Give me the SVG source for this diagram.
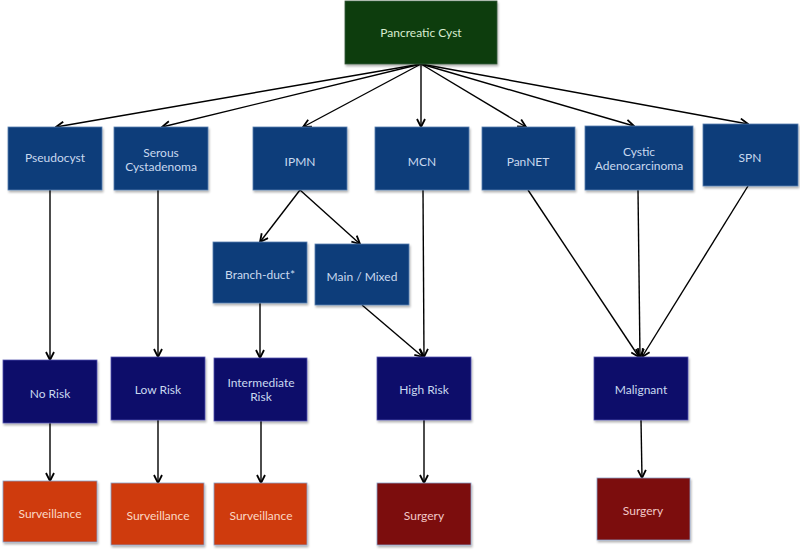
<svg xmlns="http://www.w3.org/2000/svg" width="800" height="550" viewBox="0 0 800 550">
<defs>
<marker id="ah" viewBox="0 0 10 10" refX="9" refY="5" markerWidth="10" markerHeight="10" markerUnits="userSpaceOnUse" orient="auto">
<path d="M1,1 L9,5 L1,9" fill="none" stroke="#000" stroke-width="1.8"/>
</marker>
<filter id="sh" x="-10%" y="-10%" width="125%" height="130%">
<feDropShadow dx="1" dy="2" stdDeviation="1.2" flood-color="#000" flood-opacity="0.3"/>
</filter>
</defs>
<style>
.box{filter:url(#sh);stroke-width:0.8}
.top{fill:#0c3c10;stroke:#3a5a3a}
.blue{fill:#0b3d7a;stroke:#5a7fb0}
.navy{fill:#08086a;stroke:#5a5ab0}
.orange{fill:#cf3a0b;stroke:#8aa0c8}
.red{fill:#7c0707;stroke:#8aa0c8}
text{font-family:Lato,"Open Sans","Liberation Sans",sans-serif;font-size:12px;text-anchor:middle}
.tg{fill:#d8ecd0}
.tb{fill:#c9d9ef}
.to{fill:#fbd8c4}
.tr{fill:#f2c8c8}
.conn line{stroke:#000;stroke-width:1.4;marker-end:url(#ah)}
</style>
<g class="conn">
<line x1="421" y1="64" x2="56" y2="127"/>
<line x1="421" y1="64" x2="162" y2="127"/>
<line x1="421" y1="64" x2="303" y2="127"/>
<line x1="421" y1="64" x2="421" y2="127"/>
<line x1="421" y1="64" x2="526" y2="127"/>
<line x1="421" y1="64" x2="634" y2="126"/>
<line x1="421" y1="64" x2="748" y2="124"/>
<line x1="300" y1="190" x2="260" y2="242"/>
<line x1="300" y1="190" x2="360" y2="244"/>
<line x1="50" y1="190" x2="50" y2="360"/>
<line x1="158" y1="190" x2="158" y2="357"/>
<line x1="260" y1="303" x2="260" y2="358"/>
<line x1="423" y1="190" x2="424" y2="357"/>
<line x1="362" y1="305" x2="423" y2="357"/>
<line x1="528" y1="190" x2="639" y2="357"/>
<line x1="638" y1="190" x2="640" y2="357"/>
<line x1="748" y1="186" x2="642" y2="357"/>
<line x1="50" y1="423" x2="50" y2="481"/>
<line x1="158" y1="420" x2="158" y2="483"/>
<line x1="261" y1="421" x2="261" y2="483"/>
<line x1="424" y1="420" x2="424" y2="483"/>
<line x1="641" y1="420" x2="642" y2="478"/>
</g>
<g id="pancreatic-cyst"><rect class="box top" x="345" y="1" width="152" height="63"/><text class="tg" x="421" y="37" font-size="12.5">Pancreatic Cyst</text></g>
<g id="pseudocyst"><rect class="box blue" x="8" y="127" width="94" height="63"/><text class="tb" x="55" y="162">Pseudocyst</text></g>
<g id="serous"><rect class="box blue" x="114" y="127" width="94" height="63"/><text class="tb" x="161" y="157">Serous</text><text class="tb" x="161" y="171">Cystadenoma</text></g>
<g id="ipmn"><rect class="box blue" x="253" y="127" width="94" height="63"/><text class="tb" x="300" y="166">IPMN</text></g>
<g id="mcn"><rect class="box blue" x="375" y="127" width="94" height="63"/><text class="tb" x="422" y="166">MCN</text></g>
<g id="pannet"><rect class="box blue" x="482" y="127" width="93" height="63"/><text class="tb" x="528" y="166">PanNET</text></g>
<g id="cystic-adeno"><rect class="box blue" x="585" y="126" width="108" height="64"/><text class="tb" x="639" y="156">Cystic</text><text class="tb" x="639" y="170">Adenocarcinoma</text></g>
<g id="spn"><rect class="box blue" x="703" y="124" width="95" height="62"/><text class="tb" x="750" y="162">SPN</text></g>
<g id="branch-duct"><rect class="box blue" x="213" y="242" width="94" height="61"/><text class="tb" x="260" y="279">Branch-duct*</text></g>
<g id="main-mixed"><rect class="box blue" x="315" y="244" width="94" height="61"/><text class="tb" x="362" y="281">Main / Mixed</text></g>
<g id="no-risk"><rect class="box navy" x="3" y="360" width="94" height="63"/><text class="tb" x="50" y="398">No Risk</text></g>
<g id="low-risk"><rect class="box navy" x="111" y="357" width="94" height="63"/><text class="tb" x="158" y="394">Low Risk</text></g>
<g id="intermediate-risk"><rect class="box navy" x="214" y="358" width="93" height="63"/><text class="tb" x="261" y="387">Intermediate</text><text class="tb" x="261" y="401">Risk</text></g>
<g id="high-risk"><rect class="box navy" x="377" y="357" width="94" height="63"/><text class="tb" x="424" y="394">High Risk</text></g>
<g id="malignant"><rect class="box navy" x="594" y="357" width="94" height="63"/><text class="tb" x="641" y="394">Malignant</text></g>
<g id="surveillance-1"><rect class="box orange" x="3" y="481" width="94" height="61"/><text class="to" x="50" y="518">Surveillance</text></g>
<g id="surveillance-2"><rect class="box orange" x="111" y="483" width="93" height="62"/><text class="to" x="158" y="520">Surveillance</text></g>
<g id="surveillance-3"><rect class="box orange" x="214" y="483" width="93" height="62"/><text class="to" x="261" y="520">Surveillance</text></g>
<g id="surgery-1"><rect class="box red" x="377" y="483" width="94" height="62"/><text class="tr" x="424" y="520">Surgery</text></g>
<g id="surgery-2"><rect class="box red" x="597" y="478" width="93" height="62"/><text class="tr" x="643" y="515">Surgery</text></g>
</svg>
